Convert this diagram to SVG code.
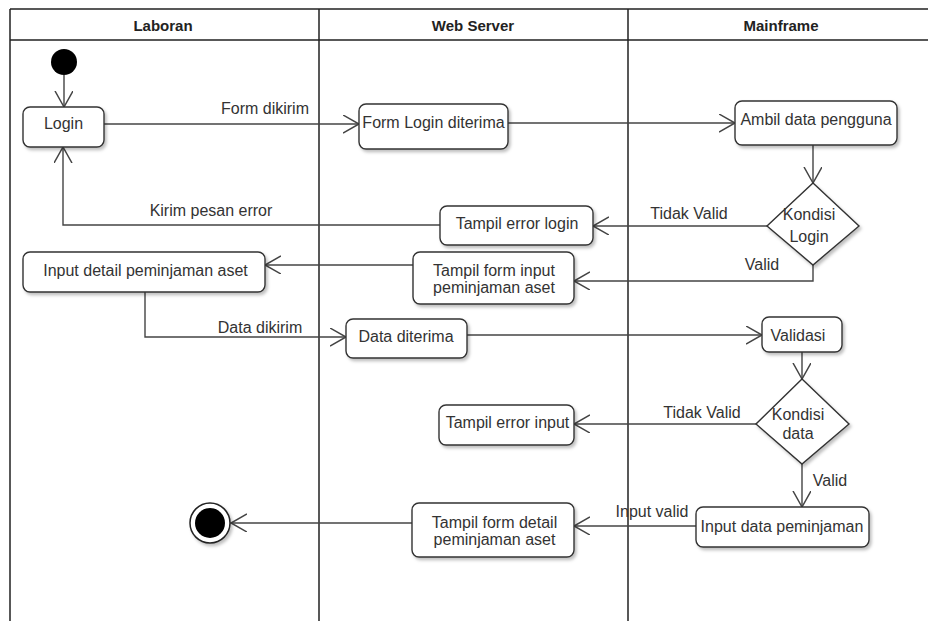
<svg xmlns="http://www.w3.org/2000/svg" width="928" height="621" viewBox="0 0 928 621">
  <style>
    .lane { fill: none; stroke: #222; stroke-width: 1.5; }
    .box { fill: #fff; stroke: #333; stroke-width: 1.4; filter: url(#shadow); }
    .edge { fill: none; stroke: #444; stroke-width: 1.4; marker-end: url(#open); }
    .seg { fill: none; stroke: #444; stroke-width: 1.4; }
    text { font-family: "Liberation Sans", Arial, sans-serif; font-size: 16px; fill: #333; text-anchor: middle; }
    .head { font-weight: bold; font-size: 15px; fill: #222; }
  </style>
  <defs>
    <filter id="shadow" x="-10%" y="-10%" width="130%" height="140%">
      <feDropShadow dx="2" dy="2.5" stdDeviation="1.5" flood-color="#000" flood-opacity="0.25"/>
    </filter>
    <marker id="open" markerUnits="userSpaceOnUse" markerWidth="20" markerHeight="20" refX="16" refY="9" orient="auto" viewBox="0 0 20 20">
      <path d="M0,0 L16,9 L0,18" fill="none" stroke="#444" stroke-width="1.5"/>
    </marker>
  </defs>

  <!-- swimlane frame -->
  <g id="lanes">
    <rect x="0" y="0" width="928" height="621" fill="#fff" stroke="none"/>
    <path class="lane" d="M10,9 H928 M10,40 H928 M10,9 V621 M319,9 V621 M628,9 V621"/>
    <text class="head" x="163" y="31">Laboran</text>
    <text class="head" x="473" y="31">Web Server</text>
    <text class="head" x="781" y="31">Mainframe</text>
  </g>

  <!-- connectors -->
  <g id="connectors">
    <path class="edge" d="M64,75 V107"/>
    <path class="edge" d="M104,124 H359"/>
    <text x="265" y="114">Form dikirim</text>
    <path class="edge" d="M508,123 H735"/>
    <path class="edge" d="M813,145 V183"/>
    <path class="edge" d="M767,226 H593"/>
    <text x="689" y="219">Tidak Valid</text>
    <path class="edge" d="M440,225 H63 V147"/>
    <text x="211" y="216">Kirim pesan error</text>
    <path class="edge" d="M813,265 V281 H574"/>
    <text x="762" y="270">Valid</text>
    <path class="edge" d="M413,265 H265"/>
    <path class="edge" d="M145,292 V337 H346"/>
    <text x="260" y="333">Data dikirim</text>
    <path class="edge" d="M467,335 H762"/>
    <path class="edge" d="M802,352 V379"/>
    <path class="edge" d="M756,424 H574"/>
    <text x="702" y="418">Tidak Valid</text>
    <path class="edge" d="M802,464 V507"/>
    <text x="830" y="486">Valid</text>
    <path class="edge" d="M696,526 H574"/>
    <text x="652" y="517">Input valid</text>
    <path class="edge" d="M412,523 H231"/>
  </g>

  <!-- start -->
  <g id="start">
    <circle cx="64" cy="62" r="13" fill="#000"/>
  </g>

  <g id="login">
    <rect class="box" x="23" y="107" width="81" height="40" rx="7"/>
    <text x="63.5" y="129">Login</text>
  </g>

  <g id="form-login-diterima">
    <rect class="box" x="359" y="104" width="149" height="45" rx="7"/>
    <text x="433.5" y="128">Form Login diterima</text>
  </g>

  <g id="ambil-data">
    <rect class="box" x="735" y="101" width="162" height="44" rx="7"/>
    <text x="816" y="125">Ambil data pengguna</text>
  </g>

  <g id="kondisi-login">
    <polygon class="box" points="813,183 859,226 813,265 767,226"/>
    <text x="809" y="220">Kondisi</text>
    <text x="809" y="242">Login</text>
  </g>

  <g id="tampil-error-login">
    <rect class="box" x="440" y="206" width="153" height="39" rx="7"/>
    <text x="517" y="229">Tampil error login</text>
  </g>

  <g id="input-detail">
    <rect class="box" x="23" y="252" width="242" height="40" rx="7"/>
    <text x="145.5" y="276">Input detail peminjaman aset</text>
  </g>

  <g id="tampil-form-input">
    <rect class="box" x="413" y="252" width="161" height="52" rx="7"/>
    <text x="494" y="276">Tampil form input</text>
    <text x="494" y="293">peminjaman aset</text>
  </g>

  <g id="data-diterima">
    <rect class="box" x="346" y="319" width="121" height="39" rx="7"/>
    <text x="406" y="342">Data diterima</text>
  </g>

  <g id="validasi">
    <rect class="box" x="762" y="317" width="80" height="35" rx="7"/>
    <text x="798" y="341">Validasi</text>
  </g>

  <g id="kondisi-data">
    <polygon class="box" points="802,379 849,424 802,464 756,424"/>
    <text x="798" y="420">Kondisi</text>
    <text x="798" y="439">data</text>
  </g>

  <g id="tampil-error-input">
    <rect class="box" x="439" y="405" width="135" height="40" rx="7"/>
    <text x="507.5" y="428">Tampil error input</text>
  </g>

  <g id="input-data">
    <rect class="box" x="696" y="507" width="173" height="40" rx="7"/>
    <text x="782" y="532">Input data peminjaman</text>
  </g>

  <g id="tampil-form-detail">
    <rect class="box" x="412" y="503" width="162" height="54" rx="7"/>
    <text x="494.5" y="528">Tampil form detail</text>
    <text x="494.5" y="545">peminjaman aset</text>
  </g>

  <!-- end -->
  <g id="end">
    <circle cx="210" cy="523" r="20" fill="#fff" stroke="#222" stroke-width="1.5" filter="url(#shadow)"/>
    <circle cx="210" cy="523" r="15" fill="#000"/>
  </g>
</svg>
